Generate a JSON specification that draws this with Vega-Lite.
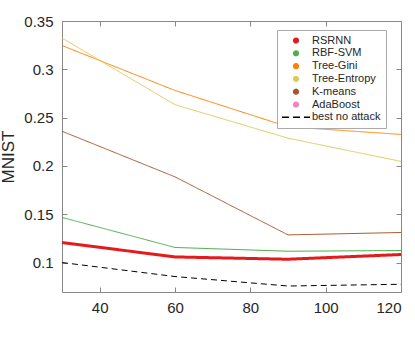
{
  "$schema": "https://vega.github.io/schema/vega-lite/v6.json",
  "width": 339,
  "height": 271,
  "autosize": "none",
  "padding": {"left": 62, "top": 21, "right": 14, "bottom": 48},
  "background": "white",
  "config": {
    "font": "Liberation Sans",
    "view": {"stroke": null}
  },
  "data": {
    "values": [
      {"series": "RSRNN", "x": 30, "y": 0.1207},
      {"series": "RSRNN", "x": 60, "y": 0.1058},
      {"series": "RSRNN", "x": 90, "y": 0.1034},
      {"series": "RSRNN", "x": 120, "y": 0.1083},
      {"series": "RBF-SVM", "x": 30, "y": 0.1467},
      {"series": "RBF-SVM", "x": 60, "y": 0.1156},
      {"series": "RBF-SVM", "x": 90, "y": 0.1117},
      {"series": "RBF-SVM", "x": 120, "y": 0.1124},
      {"series": "Tree-Gini", "x": 30, "y": 0.3246},
      {"series": "Tree-Gini", "x": 60, "y": 0.2781},
      {"series": "Tree-Gini", "x": 90, "y": 0.2405},
      {"series": "Tree-Gini", "x": 120, "y": 0.2326},
      {"series": "Tree-Entropy", "x": 30, "y": 0.3323},
      {"series": "Tree-Entropy", "x": 60, "y": 0.2634},
      {"series": "Tree-Entropy", "x": 90, "y": 0.2287},
      {"series": "Tree-Entropy", "x": 120, "y": 0.2047},
      {"series": "K-means", "x": 30, "y": 0.2359},
      {"series": "K-means", "x": 60, "y": 0.1887},
      {"series": "K-means", "x": 90, "y": 0.1286},
      {"series": "K-means", "x": 120, "y": 0.1311},
      {"series": "best no attack", "x": 30, "y": 0.1},
      {"series": "best no attack", "x": 60, "y": 0.0855},
      {"series": "best no attack", "x": 90, "y": 0.0757},
      {"series": "best no attack", "x": 120, "y": 0.0775}
    ]
  },
  "resolve": {"axis": {"x": "independent", "y": "independent"}},
  "layer": [
    {
      "mark": {"type": "line", "clip": true},
      "encoding": {
        "x": {
          "field": "x", "type": "quantitative",
          "scale": {"domain": [30, 120], "nice": false, "zero": false},
          "axis": {
            "orient": "bottom", "title": null, "values": [40, 60, 80, 100, 120],
            "format": "d", "grid": false, "domainColor": "#888", "tickColor": "#888",
            "tickSize": -5, "labelPadding": 13, "labelFontSize": 15, "labelColor": "#262626",
            "labelFont": "Liberation Sans"
          }
        },
        "y": {
          "field": "y", "type": "quantitative",
          "scale": {"domain": [0.0695, 0.35], "nice": false, "zero": false},
          "axis": {
            "orient": "left", "title": "MNIST", "values": [0.1, 0.15, 0.2, 0.25, 0.3, 0.35],
            "format": "~g", "grid": false, "domainColor": "#888", "tickColor": "#888",
            "tickSize": -5, "labelPadding": 14, "labelFontSize": 15, "labelColor": "#262626",
            "titleFontSize": 17, "titleFontWeight": "normal", "titleColor": "#262626",
            "titlePadding": 6, "labelFont": "Liberation Sans", "titleFont": "Liberation Sans"
          }
        },
        "color": {
          "field": "series", "type": "nominal",
          "scale": {
            "domain": ["RSRNN", "RBF-SVM", "Tree-Gini", "Tree-Entropy", "K-means", "AdaBoost", "best no attack"],
            "range": ["#e41a1c", "#4daf4a", "#ff7f00", "#e0c95c", "#a65628", "#f781bf", "#000000"]
          },
          "legend": {
            "title": null, "orient": "none", "legendX": 215, "legendY": 9,
            "fillColor": "white", "strokeColor": "#aaa", "padding": 5,
            "labelFontSize": 11, "labelColor": "#262626", "labelOffset": 19, "rowPadding": 0.8,
            "labelFont": "Liberation Sans",
            "encode": {
              "symbols": {
                "update": {
                  "x": {"value": 14},
                  "shape": {"signal": "datum.value === 'best no attack' ? 'stroke' : 'circle'"},
                  "size": {"signal": "datum.value === 'best no attack' ? 784 : 22"},
                  "fill": {"signal": "datum.value === 'best no attack' ? 'transparent' : scale('color', datum.value)"},
                  "stroke": {"signal": "datum.value === 'best no attack' ? '#444' : 'transparent'"},
                  "strokeDash": {"signal": "datum.value === 'best no attack' ? [7, 4] : [1, 0]"},
                  "strokeWidth": {"value": 1.5},
                  "opacity": {"value": 1}
                }
              }
            }
          }
        },
        "strokeWidth": {
          "condition": {"test": "datum.series === 'RSRNN'", "value": 3},
          "value": 1
        },
        "strokeDash": {
          "condition": {"test": "datum.series === 'best no attack'", "value": [6, 4]},
          "value": [1, 0]
        }
      }
    },
    {
      "mark": {"type": "line", "strokeOpacity": 0},
      "encoding": {
        "x": {
          "field": "x", "type": "quantitative",
          "axis": {
            "orient": "top", "title": null, "values": [40, 60, 80, 100, 120],
            "labels": false, "grid": false, "domainColor": "#888", "tickColor": "#888", "tickSize": -5
          }
        },
        "y": {
          "field": "y", "type": "quantitative",
          "axis": {
            "orient": "right", "title": null, "values": [0.1, 0.15, 0.2, 0.25, 0.3, 0.35],
            "labels": false, "grid": false, "domainColor": "#888", "tickColor": "#888", "tickSize": -5
          }
        },
        "detail": {"field": "series", "type": "nominal"}
      }
    }
  ]
}
